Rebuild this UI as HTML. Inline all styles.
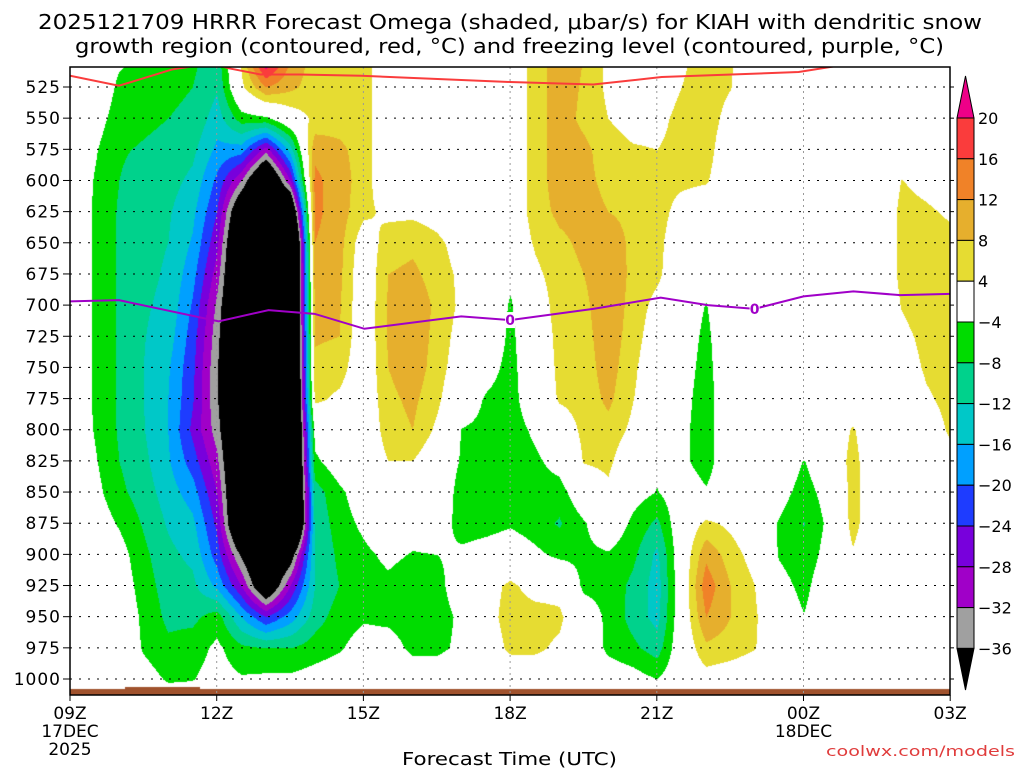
<!DOCTYPE html>
<html><head><meta charset="utf-8">
<style>
html,body{margin:0;padding:0;background:#fff;}
body{width:1024px;height:768px;position:relative;overflow:hidden;font-family:"DejaVu Sans","Liberation Sans",sans-serif;}
#field{position:absolute;left:0;top:0;}
#overlay{position:absolute;left:0;top:0;}
text{font-family:"DejaVu Sans","Liberation Sans",sans-serif;}
</style></head>
<body>
<canvas id="field" width="1024" height="768"></canvas>
<svg id="overlay" width="1024" height="768">
<g id="title">
<text x="38" y="29" font-size="20" textLength="944" lengthAdjust="spacingAndGlyphs" fill="#000">2025121709 HRRR Forecast Omega (shaded, μbar/s) for KIAH with dendritic snow</text>
<text x="75" y="53" font-size="20" textLength="869" lengthAdjust="spacingAndGlyphs" fill="#000">growth region (contoured, red, °C) and freezing level (contoured, purple, °C)</text>
</g>
<g id="grid"></g>
<g id="lines"></g>
<g id="axes"></g>
<g id="cbar"></g>
<text x="402" y="765" font-size="18" textLength="215" lengthAdjust="spacingAndGlyphs">Forecast Time (UTC)</text>
<text x="826" y="756" font-size="14" textLength="189" lengthAdjust="spacingAndGlyphs" fill="#e03c3c">coolwx.com/models</text>
</svg>
<script>
// ---- data ----
const timesHours = [0,0.5,1,1.5,2,2.5,3,3.5,4,4.5,5,5.5,6,6.5,7,7.5,8,8.5,9,9.5,10,10.5,11,11.5,12,12.5,13,13.5,14,14.5,15,15.5,16,16.5,17,17.5,18];
const pressureLevels = [500,525,550,575,600,625,650,675,700,725,750,775,800,825,850,875,900,925,950,975,1000,1025];
const omegaByTime = [
[0,0,0,0,0,0,0,0,0,0,0,0,0,0,0,0,0,0,0,0,0,0],
[0,0,-2,-3.5,-4.3,-4.6,-4.6,-4.6,-4.6,-4.6,-4.6,-4.6,-4.3,-3.5,-2.5,-1,0,0,0,0,0,0],
[-3,-5,-6,-7.5,-8,-8.5,-8.5,-8.5,-8.5,-8.5,-8.5,-8.5,-8.5,-8,-7,-4.5,-2,-1,0,0,0,0],
[-5,-6,-7,-8.5,-10,-10.5,-11,-11,-11.5,-11.8,-12,-12,-11.8,-11,-10,-8.5,-7,-6,-5,-4.5,-2,0],
[-6,-7,-8,-9.5,-10.5,-11.5,-12,-12.5,-13,-14,-15.5,-16,-16,-15.5,-14,-12.5,-11,-10,-9,-7,-4.5,0],
[-7,-8,-9,-11,-13,-15,-16.5,-18.5,-20.5,-22,-23,-23.5,-25,-22,-18,-15,-13,-11,-9,-6,-4.2,0],
[-10,-11.5,-14,-17,-21,-24,-27,-30,-33,-34.5,-35.5,-35.5,-34,-31,-28,-25,-22,-17,-6,-3,-2,0],
[5,3,-6,-18,-32,-45,-50,-50,-50,-50,-50,-50,-50,-50,-50,-50,-37,-28,-16,-7,-3.5,0],
[26,12,-5,-30,-50,-50,-50,-50,-50,-50,-50,-50,-50,-50,-50,-50,-50,-45,-24,-8,-3,0],
[12,9,1,-14,-28,-50,-65,-65,-65,-65,-65,-65,-65,-65,-65,-65,-40,-28,-18,-8,-3,0],
[6,6,5,11,13,13,12,10,9,8.5,7,5,-2,-5,-10,-11,-12,-12,-10,-6,-2,0],
[6,6,6,9,10,10,9.5,9,8.5,8,6,3,2,-1,-5,-6,-7,-8,-6,-4.5,-1,0],
[6,6,6,6,6,5,1,0,0,0,0,0,0,0,-1,-3,-5,-6,-4.5,-2,0,0],
[0,0,0,0,0,3,6,8,8.5,8.5,8,7,6,4,0,0,-3,-5,-5,-2,0,0],
[0,0,0,0,0,3,7,9,11,11,10.5,9,8,4,2,-2,-4.3,-6.5,-6,-5,-1,0],
[0,0,0,0,0,2,5,6,7,6.5,6,5,3,0,0,-1,-4,-5.5,-6,-5,-1,0],
[0,0,0,0,0,0,2,3,3,2,1,-1,-4.2,-4.5,-6,-6,-3,-1,-3,-3,0,0],
[0,0,0,0,0,0,0,0,0,0,-2,-4.5,-5,-6,-6.5,-5.5,-2,2,2,1,0,0],
[0,0,0,0,0,0,0,-3,-4.5,-5,-5.5,-6,-6.5,-7,-6.5,-4.5,-1,5,6,5,0,0],
[6,6,6,6,6,6,4.5,3,1,0,0,0,-3,-5,-6,-6,-3,2,6,5,0,0],
[10,10,10,10,10,9,7,6,6,5.5,5,4.5,1,-2,-6,-8.5,-5,2,5,3,0,0],
[8,7.5,7,9,9,9.5,9,8,7,6.5,6,5.5,5,4.3,0,-4.5,-5,-5,-1,0,0,0],
[3,3,4,6,7,8,10.5,11,11,10.5,10,9,6.5,5,3,0,-4.5,-5.5,-5,-5,-1,0],
[0,0,2,4.5,6,7,7,7,6.5,6,5,4.2,3,0,-2,-5,-7,-9,-9.5,-7,-2,0],
[0,0,2,4,5.5,6,5.5,5,2.5,1,0,0,0,-3,-4.2,-9,-13,-14,-13.5,-10,-4,0],
[3,4,6,6,5,2,0,0,-1,-1.5,-2,-2.5,-3,-3,-1,0,0,0,0,0,0,0],
[6,6.5,6.5,6,4.5,0,0,-2,-4.2,-5,-5.5,-6,-6,-6,-3.5,5,11,14.5,12,7,2,0],
[4.5,4.2,2,0,0,0,0,0,0,0,0,0,0,0,0,3,6,8,8,6,1,0],
[0,0,0,0,0,0,0,0,0,0,0,0,0,0,0,0,2,4,4.5,4.2,0,0],
[0,0,0,0,0,0,0,0,0,0,0,0,0,0,-2,-4.5,-4.5,-2,0,0,0,0],
[0,0,0,0,0,0,0,0,0,0,0,0,0,-4.2,-6,-8.2,-7,-5.5,-3.8,-2,0,0],
[0,0,0,0,0,0,0,0,0,0,0,0,0,0,-2,-3,-2,0,0,0,0,0],
[0,0,0,0,0,0,0,0,0,0,0,0,4.5,5.5,5.5,5.5,3.5,0,0,0,0,0],
[0,0,0,0,0,0,0,0,0,0,0,0,0,0,0,0,0,0,0,0,0,0],
[0,0,0,2,4.1,5,5,5,4.2,3,2,0,0,0,0,0,0,0,0,0,0,0],
[0,0,0,0,3,4.5,5.5,6,6,5,4.5,3.5,2,0,0,0,0,0,0,0,0,0],
[0,0,0,0,2,3.5,5,6,6,6,5.5,5,4.5,3,0,0,0,0,0,0,0,0]
];
const dgzTimes = [0,1,2.08,2.9,3.25,3.9,4.7,5.96,9,10.7,12.1,14.9,15.7,16.5];
const dgzPres = [516,524,511,506,510,515,515,516,521,523,517,513,508,503];
const frzTimes = [0,1,3.04,4.06,5,6.02,8,9,10.7,12.08,13.04,14,15,16.02,16.98,18];
const frzPres = [697,696,713,704,707,719,709,712,703,694,700,703,693,689,692,691];
const frzLabelTimes = [9,14];
const yTickLabels = [525,550,575,600,625,650,675,700,725,750,775,800,825,850,875,900,925,950,975,1000];
const xTickTimes = [0,3,6,9,12,15,18];
const xTickLabels = ["09Z","12Z","15Z","18Z","21Z","00Z","03Z"];
const xTickSub = [["17DEC","2025"],[],[],[],[],["18DEC"],[]];
const cbarLevels = [20,16,12,8,4,-4,-8,-12,-16,-20,-24,-28,-32,-36];
const cbarColors = ["#ee0088","#fa3c3c","#f08228","#e6af2d","#e6dc32","#ffffff","#00dc00","#00d28c","#00c8c8","#00a0ff","#1e3cff","#7800dc","#a000c8","#a0a0a0","#000000"];

// ---- axes ----
const PL=70, PR=950, PT=67, PB=695;
function xOf(t){return PL + t*48.9;}
function yOf(p){return 87 + (p-525)*(592/475);}
function hexRgb(h){return [parseInt(h.slice(1,3),16),parseInt(h.slice(3,5),16),parseInt(h.slice(5,7),16)];}
const rgbCols = cbarColors.map(hexRgb);
function colorIdx(v){
  for(let i=0;i<cbarLevels.length;i++){ if(v>=cbarLevels[i]) return i; }
  return cbarColors.length-1;
}
function sample(t,p){
  const nT=timesHours.length, nP=pressureLevels.length;
  const dt=timesHours[1]-timesHours[0], dp=pressureLevels[1]-pressureLevels[0];
  let fi=(t-timesHours[0])/dt, fj=(p-pressureLevels[0])/dp;
  fi=Math.max(0,Math.min(nT-1.0001,fi)); fj=Math.max(0,Math.min(nP-1.0001,fj));
  const i=Math.floor(fi), j=Math.floor(fj), a=fi-i, b=fj-j;
  const v00=omegaByTime[i][j], v10=omegaByTime[i+1][j], v01=omegaByTime[i][j+1], v11=omegaByTime[i+1][j+1];
  return (1-a)*(1-b)*v00 + a*(1-b)*v10 + (1-a)*b*v01 + a*b*v11;
}
// ---- shaded field ----
const cv=document.getElementById('field'), ctx=cv.getContext('2d');
const fieldImg=ctx.createImageData(PR-PL, PB-PT);
for(let py=PT; py<PB; py++){
  const p = 525 + (py-87)*(475/592);
  for(let px=PL; px<PR; px++){
    const t=(px-PL)/48.9;
    const c=rgbCols[colorIdx(sample(t,p))];
    const k=((py-PT)*(PR-PL)+(px-PL))*4;
    fieldImg.data[k]=c[0];fieldImg.data[k+1]=c[1];fieldImg.data[k+2]=c[2];fieldImg.data[k+3]=255;
  }
}
ctx.putImageData(fieldImg,PL,PT);
ctx.fillStyle="#a0522d";
ctx.fillRect(PL,689,PR-PL,6);
ctx.fillRect(125,687,75,2);

const NS="http://www.w3.org/2000/svg";
function el(tag,attrs,parent){const e=document.createElementNS(NS,tag);for(const k in attrs)e.setAttribute(k,attrs[k]);parent.appendChild(e);return e;}
const svgRoot=document.getElementById('overlay');
const defsEl=el('defs',{},svgRoot);
const clipEl=el('clipPath',{id:"plotclip"},defsEl);
el('rect',{x:PL,y:PT,width:PR-PL,height:PB-PT},clipEl);

const gridG=document.getElementById('grid');
yTickLabels.forEach(p=>{
  const l=el('line',{x1:PL,x2:PR,y1:yOf(p),y2:yOf(p),stroke:"#000","stroke-width":1,"stroke-dasharray":"2,7"},gridG);
  
  
});
xTickTimes.slice(1,-1).forEach(t=>{
  const l=el('line',{x1:xOf(t),x2:xOf(t),y1:PT,y2:PB,stroke:"#999","stroke-width":1,"stroke-dasharray":"2,4"},gridG);
  
  
});
const linesG=document.getElementById('lines');
const dgzLine=el('polyline',{points:dgzTimes.map((t,i)=>xOf(t)+","+yOf(dgzPres[i])).join(" "),fill:"none",stroke:"#fa3c3c","stroke-width":2,"clip-path":"url(#plotclip)"},linesG);


const frzLine=el('polyline',{points:frzTimes.map((t,i)=>xOf(t)+","+yOf(frzPres[i])).join(" "),fill:"none",stroke:"#a000c8","stroke-width":2},linesG);


function interpFrz(t){for(let i=0;i<frzTimes.length-1;i++){if(t>=frzTimes[i]&&t<=frzTimes[i+1]){const a=(t-frzTimes[i])/(frzTimes[i+1]-frzTimes[i]);return frzPres[i]+a*(frzPres[i+1]-frzPres[i]);}}return frzPres[0];}
frzLabelTimes.forEach(t=>{
  const x=xOf(t), y=yOf(interpFrz(t));
  const bg=el('rect',{x:x-5,y:y-8,width:10,height:16,fill:"#fff"},linesG);
  
  
  const tx=el('text',{x:x,y:y+5,"font-size":14,"font-weight":"bold","text-anchor":"middle",fill:"#a000c8"},linesG);
  tx.textContent="0";
  
  
});
const axesG=document.getElementById('axes');
const frameRect=el('rect',{x:PL,y:PT,width:PR-PL,height:PB-PT,fill:"none",stroke:"#000","stroke-width":1.5},axesG);


yTickLabels.forEach(p=>{
  const y=yOf(p);
  el('line',{x1:PL-7,x2:PL,y1:y,y2:y,stroke:"#000"},axesG);
  el('line',{x1:PR,x2:PR+4,y1:y,y2:y,stroke:"#000"},axesG);
  const tx=el('text',{x:PL-9,y:y+6,"font-size":17,"text-anchor":"end","letter-spacing":"1"},axesG);
  tx.textContent=String(p);
  
  
});
xTickTimes.forEach((t,i)=>{
  const x=xOf(t);
  el('line',{x1:x,x2:x,y1:PB,y2:PB+6,stroke:"#000"},axesG);
  const tx=el('text',{x:x,y:719,"font-size":17,"text-anchor":"middle"},axesG);
  tx.textContent=xTickLabels[i];
  
  
  xTickSub[i].forEach((s,k)=>{
    const st=el('text',{x:x,y:737+k*18,"font-size":17,"text-anchor":"middle"},axesG);
    st.textContent=s;
    
    
  });
});
const cbG=document.getElementById('cbar');
const CX=957, CW=17, CT=118, CH=40.8;
const cbTop=el('polygon',{points:`${CX},${CT} ${CX+CW},${CT} ${CX+CW/2},76`,fill:cbarColors[0],stroke:"#000"},cbG);


for(let i=1;i<cbarColors.length-1;i++){
  const r=el('rect',{x:CX,y:CT+(i-1)*CH,width:CW,height:CH,fill:cbarColors[i],stroke:"#000"},cbG);
  
  
}
const botY=CT+(cbarColors.length-2)*CH;
const cbBot=el('polygon',{points:`${CX},${botY} ${CX+CW},${botY} ${CX+CW/2},690`,fill:"#000",stroke:"#000"},cbG);


cbarLevels.forEach((v,i)=>{
  const tx=el('text',{x:978,y:CT+i*CH+6,"font-size":16},cbG);
  tx.textContent=(v<0?"\u2212":"")+Math.abs(v);
  
  
});
</script>
</body></html>
